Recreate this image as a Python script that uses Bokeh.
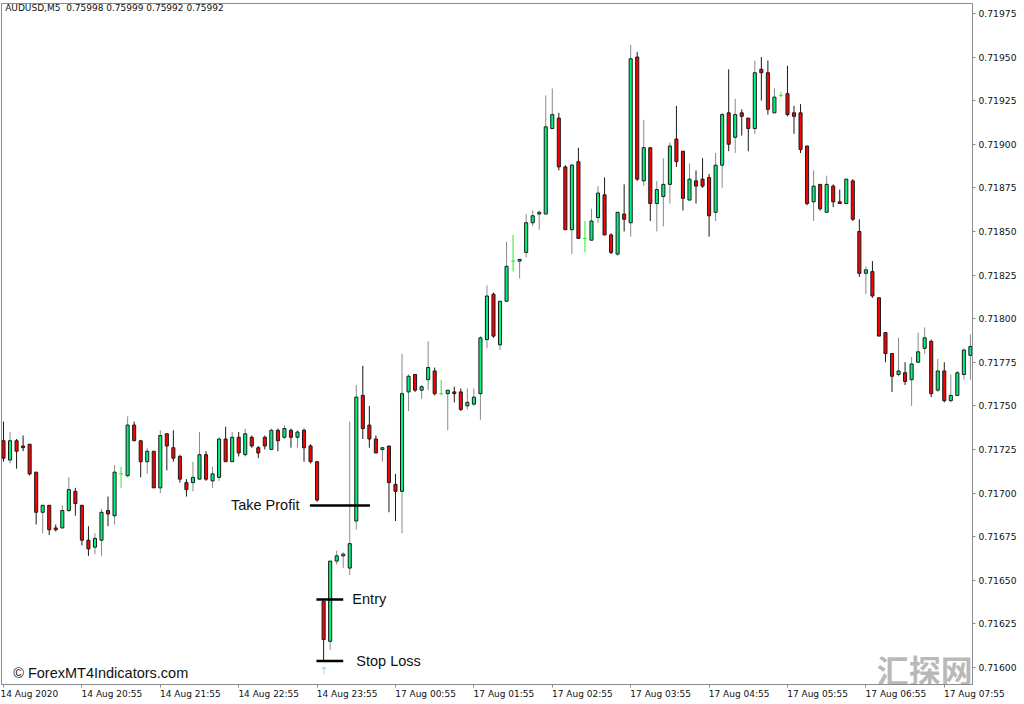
from bokeh.plotting import figure
from bokeh.models import Range1d, FixedTicker, PrintfTickFormatter, ColumnDataSource
from bokeh.core.properties import value
from bokeh.embed import file_html
from bokeh.resources import INLINE

# ---------------- data (AUDUSD M5, 14 Aug 2020 19:55 -> 17 Aug 2020 08:15) ----------------
opens = [0.71730, 0.71719, 0.71730, 0.71727, 0.71728, 0.71712, 0.71689, 0.71693, 0.71680, 0.71680,
         0.71690, 0.71701, 0.71693, 0.71673, 0.71669, 0.71673, 0.71690, 0.71687, 0.71711, 0.71710,
         0.71739, 0.71730, 0.71718, 0.71724, 0.71703, 0.71734, 0.71726, 0.71721, 0.71706, 0.71706,
         0.71708, 0.71722, 0.71707, 0.71709, 0.71731, 0.71718, 0.71732, 0.71722, 0.71732, 0.71726,
         0.71732, 0.71725, 0.71736, 0.71732, 0.71736, 0.71732, 0.71736, 0.71727, 0.71718, 0.71638,
         0.71615, 0.71661, 0.71664, 0.71657, 0.71684, 0.71756, 0.71739, 0.71731, 0.71725, 0.71727,
         0.71705, 0.71701, 0.71758, 0.71768, 0.71759, 0.71765, 0.71770, 0.71757, 0.71757, 0.71758,
         0.71758, 0.71750, 0.71751, 0.71757, 0.71788, 0.71814, 0.71785, 0.71810, 0.71833, 0.71833,
         0.71838, 0.71855, 0.71860, 0.71860, 0.71909, 0.71915, 0.71887, 0.71851, 0.71890, 0.71846,
         0.71845, 0.71858, 0.71871, 0.71848, 0.71837, 0.71860, 0.71855, 0.71950, 0.71879, 0.71898,
         0.71866, 0.71870, 0.71877, 0.71903, 0.71896, 0.71868, 0.71879, 0.71880, 0.71881, 0.71861,
         0.71888, 0.71918, 0.71904, 0.71918, 0.71915, 0.71909, 0.71943, 0.71941, 0.71918, 0.71928,
         0.71929, 0.71918, 0.71918, 0.71899, 0.71867, 0.71877, 0.71861, 0.71876, 0.71867, 0.71866,
         0.71879, 0.71850, 0.71826, 0.71827, 0.71812, 0.71792, 0.71780, 0.71768, 0.71769, 0.71765,
         0.71775, 0.71783, 0.71787, 0.71759, 0.71770, 0.71753, 0.71756, 0.71768, 0.71779]

highs = [0.71741, 0.71735, 0.71731, 0.71733, 0.71728, 0.71712, 0.71693, 0.71693, 0.71682, 0.71693,
         0.71709, 0.71703, 0.71693, 0.71681, 0.71677, 0.71691, 0.71698, 0.71716, 0.71715, 0.71744,
         0.71741, 0.71730, 0.71726, 0.71724, 0.71736, 0.71734, 0.71736, 0.71722, 0.71708, 0.71718,
         0.71735, 0.71724, 0.71715, 0.71732, 0.71738, 0.71735, 0.71735, 0.71737, 0.71733, 0.71727,
         0.71733, 0.71737, 0.71737, 0.71739, 0.71737, 0.71736, 0.71737, 0.71728, 0.71718, 0.71638,
         0.71661, 0.71667, 0.71666, 0.71741, 0.71762, 0.71773, 0.71750, 0.71733, 0.71726, 0.71727,
         0.71711, 0.71780, 0.71768, 0.71768, 0.71762, 0.71787, 0.71772, 0.71765, 0.71759, 0.71761,
         0.71760, 0.71760, 0.71760, 0.71790, 0.71819, 0.71815, 0.71810, 0.71844, 0.71848, 0.71834,
         0.71860, 0.71862, 0.71862, 0.71928, 0.71932, 0.71918, 0.71888, 0.71889, 0.71898, 0.71856,
         0.71863, 0.71876, 0.71881, 0.71849, 0.71861, 0.71877, 0.71957, 0.71953, 0.71914, 0.71898,
         0.71879, 0.71892, 0.71901, 0.71922, 0.71896, 0.71889, 0.71885, 0.71892, 0.71883, 0.71895,
         0.71918, 0.71943, 0.71926, 0.71920, 0.71915, 0.71948, 0.71950, 0.71948, 0.71932, 0.71930,
         0.71945, 0.71922, 0.71923, 0.71899, 0.71885, 0.71877, 0.71882, 0.71877, 0.71874, 0.71880,
         0.71880, 0.71857, 0.71830, 0.71833, 0.71812, 0.71792, 0.71780, 0.71789, 0.71775, 0.71778,
         0.71792, 0.71795, 0.71788, 0.71777, 0.71775, 0.71768, 0.71770, 0.71783, 0.71791]

lows = [0.71718, 0.71717, 0.71714, 0.71724, 0.71710, 0.71682, 0.71677, 0.71676, 0.71678, 0.71680,
        0.71689, 0.71687, 0.71670, 0.71664, 0.71665, 0.71664, 0.71681, 0.71682, 0.71703, 0.71709,
        0.71730, 0.71709, 0.71711, 0.71703, 0.71700, 0.71713, 0.71718, 0.71706, 0.71698, 0.71701,
        0.71708, 0.71707, 0.71703, 0.71707, 0.71718, 0.71718, 0.71721, 0.71721, 0.71726, 0.71720,
        0.71725, 0.71725, 0.71724, 0.71731, 0.71726, 0.71726, 0.71718, 0.71717, 0.71695, 0.71604,
        0.71610, 0.71659, 0.71657, 0.71653, 0.71679, 0.71731, 0.71726, 0.71723, 0.71718, 0.71689,
        0.71684, 0.71677, 0.71747, 0.71758, 0.71754, 0.71759, 0.71756, 0.71756, 0.71736, 0.71752,
        0.71747, 0.71748, 0.71750, 0.71742, 0.71783, 0.71789, 0.71782, 0.71810, 0.71827, 0.71823,
        0.71835, 0.71853, 0.71851, 0.71860, 0.71909, 0.71885, 0.71851, 0.71837, 0.71846, 0.71838,
        0.71845, 0.71855, 0.71848, 0.71837, 0.71836, 0.71850, 0.71847, 0.71879, 0.71876, 0.71856,
        0.71850, 0.71853, 0.71866, 0.71887, 0.71862, 0.71868, 0.71866, 0.71875, 0.71847, 0.71856,
        0.71875, 0.71896, 0.71895, 0.71905, 0.71896, 0.71906, 0.71925, 0.71917, 0.71918, 0.71927,
        0.71916, 0.71906, 0.71895, 0.71865, 0.71856, 0.71862, 0.71861, 0.71864, 0.71866, 0.71866,
        0.71856, 0.71824, 0.71814, 0.71812, 0.71790, 0.71775, 0.71758, 0.71767, 0.71762, 0.71750,
        0.71775, 0.71780, 0.71755, 0.71758, 0.71752, 0.71752, 0.71756, 0.71765, 0.71765]

closes = [0.71720, 0.71730, 0.71724, 0.71726, 0.71711, 0.71689, 0.71693, 0.71679, 0.71679, 0.71690,
          0.71702, 0.71694, 0.71673, 0.71668, 0.71674, 0.71689, 0.71688, 0.71712, 0.71711, 0.71739,
          0.71730, 0.71718, 0.71724, 0.71703, 0.71733, 0.71727, 0.71720, 0.71708, 0.71702, 0.71709,
          0.71722, 0.71708, 0.71711, 0.71731, 0.71718, 0.71732, 0.71723, 0.71734, 0.71727, 0.71723,
          0.71727, 0.71736, 0.71730, 0.71737, 0.71732, 0.71735, 0.71726, 0.71718, 0.71696, 0.71616,
          0.71661, 0.71664, 0.71665, 0.71671, 0.71755, 0.71737, 0.71731, 0.71723, 0.71726, 0.71706,
          0.71701, 0.71757, 0.71767, 0.71759, 0.71761, 0.71772, 0.71757, 0.71757, 0.71759, 0.71757,
          0.71748, 0.71752, 0.71755, 0.71789, 0.71813, 0.71790, 0.71810, 0.71830, 0.71833, 0.71834,
          0.71855, 0.71859, 0.71861, 0.71910, 0.71917, 0.71887, 0.71851, 0.71888, 0.71846, 0.71846,
          0.71856, 0.71872, 0.71848, 0.71838, 0.71861, 0.71857, 0.71949, 0.71880, 0.71898, 0.71866,
          0.71874, 0.71877, 0.71899, 0.71890, 0.71869, 0.71880, 0.71876, 0.71876, 0.71859, 0.71888,
          0.71917, 0.71900, 0.71917, 0.71916, 0.71909, 0.71941, 0.71941, 0.71920, 0.71927, 0.71928,
          0.71917, 0.71916, 0.71897, 0.71866, 0.71876, 0.71863, 0.71877, 0.71867, 0.71866, 0.71880,
          0.71857, 0.71826, 0.71828, 0.71813, 0.71790, 0.71780, 0.71767, 0.71770, 0.71764, 0.71774,
          0.71781, 0.71789, 0.71757, 0.71770, 0.71753, 0.71756, 0.71769, 0.71782, 0.71784]

time_tick_bars = [0, 12, 24, 36, 48, 60, 72, 84, 96, 108, 120, 132, 144]
time_tick_labels = ["14 Aug 2020", "14 Aug 20:55", "14 Aug 21:55", "14 Aug 22:55", "14 Aug 23:55",
                    "17 Aug 00:55", "17 Aug 01:55", "17 Aug 02:55", "17 Aug 03:55", "17 Aug 04:55",
                    "17 Aug 05:55", "17 Aug 06:55", "17 Aug 07:55"]
price_ticks = [0.71600, 0.71625, 0.71650, 0.71675, 0.71700, 0.71725, 0.71750, 0.71775,
               0.71800, 0.71825, 0.71850, 0.71875, 0.71900, 0.71925, 0.71950, 0.71975]

tp_level = 0.716929
entry_level = 0.716390
sl_level = 0.716037
signal_bar = 49

header_text = "AUDUSD,M5\u00a0 0.75998 0.75999 0.75992 0.75992"

# ---------------- colours ----------------
BULL = "#00f57f"
BEAR = "#ff0000"
DOJI = "#22ee22"
BULL_WICK = "#8a8a8a"
BEAR_WICK = "#1a1a1a"
FRAME = "#8c8c8c"

n = len(opens)
xs = list(range(n))

def split(cond):
    ids = [i for i in xs if cond(i)]
    return dict(
        x=ids,
        top=[max(opens[i], closes[i]) for i in ids],
        bottom=[min(opens[i], closes[i]) for i in ids],
        high=[highs[i] for i in ids],
        low=[lows[i] for i in ids],
        xl=[i - 0.28 for i in ids],
        xr=[i + 0.28 for i in ids],
        o=[opens[i] for i in ids],
    )

bull = ColumnDataSource(split(lambda i: closes[i] > opens[i]))
bear = ColumnDataSource(split(lambda i: closes[i] < opens[i]))
doji = ColumnDataSource(split(lambda i: closes[i] == opens[i]))

p = figure(width=1024, height=704,
           x_range=Range1d(-0.306, 148.32), y_range=Range1d(0.7159025, 0.719807),
           y_axis_location="right", output_backend="svg", toolbar_location=None,
           min_border_left=1, min_border_top=3, min_border_right=52, min_border_bottom=20,
           background_fill_color="white", border_fill_color="white")

p.xgrid.visible = False
p.ygrid.visible = False
p.outline_line_color = FRAME
p.outline_line_width = 1

# y axis (right)
yax = p.yaxis[0]
yax.ticker = FixedTicker(ticks=price_ticks)
yax.formatter = PrintfTickFormatter(format="%.5f")
yax.axis_line_color = FRAME
yax.major_tick_line_color = FRAME
yax.major_tick_out = 3
yax.major_tick_in = 0
yax.minor_tick_out = 0
yax.minor_tick_in = 0
yax.major_label_standoff = 3
yax.major_label_text_font = "DejaVu Sans"
yax.major_label_text_font_size = "9.2px"
yax.major_label_text_color = "#111111"

# x axis (bottom): MT4 puts each date/time label to the right of its tick.
# Bokeh centres axis labels, so the labels get a leading pad of no-break spaces
# of about the label's own width (the first one is kept inside the canvas by Bokeh).
PAD = "\u00a0" * 21
xax = p.xaxis[0]
xax.ticker = FixedTicker(ticks=time_tick_bars)
xax.major_label_overrides = {b: (t if k == 0 else PAD + t)
                             for k, (b, t) in enumerate(zip(time_tick_bars, time_tick_labels))}
xax.major_label_text_font = "DejaVu Sans"
xax.major_label_text_font_size = "9px"
xax.major_label_text_color = "#111111"
xax.axis_line_color = FRAME
xax.major_tick_line_color = FRAME
xax.major_tick_out = 3
xax.major_tick_in = 0
xax.minor_tick_out = 0
xax.minor_tick_in = 0
xax.major_label_standoff = 1

# candles: wicks
p.segment(x0="x", y0="low", x1="x", y1="high", source=bull, line_color=BULL_WICK, line_width=1)
p.segment(x0="x", y0="low", x1="x", y1="high", source=bear, line_color=BEAR_WICK, line_width=1)
p.segment(x0="x", y0="low", x1="x", y1="high", source=doji, line_color=DOJI, line_width=1)
# bodies
p.vbar(x="x", width=0.47, top="top", bottom="bottom", source=bull,
       fill_color=BULL, line_color="#1a1a1a", line_width=1)
p.vbar(x="x", width=0.47, top="top", bottom="bottom", source=bear,
       fill_color=BEAR, line_color="#1a1a1a", line_width=1)
p.segment(x0="xl", y0="o", x1="xr", y1="o", source=doji, line_color=DOJI, line_width=1)

# trade levels
p.segment(x0=[46.9], y0=[tp_level], x1=[56.1], y1=[tp_level], line_color="black", line_width=2.5)
p.segment(x0=[47.9, 47.9], y0=[entry_level, sl_level], x1=[52.0, 52.0], y1=[entry_level, sl_level],
          line_color="black", line_width=2.5)

lbl_font = value("Liberation Sans")
lbl_size = value("14.5px")
p.text(x=[45.3], y=[tp_level], text=["Take Profit"], text_align="right", text_baseline="middle",
       text_font=lbl_font, text_font_size=lbl_size, text_color="#111111")
p.text(x=[53.4], y=[entry_level], text=["Entry"], text_align="left", text_baseline="middle",
       text_font=lbl_font, text_font_size=lbl_size, text_color="#111111")
p.text(x=[54.0], y=[sl_level], text=["Stop Loss"], text_align="left", text_baseline="middle",
       text_font=lbl_font, text_font_size=lbl_size, text_color="#111111")
p.text(x=[1.48], y=[0.715969], text=["© ForexMT4Indicators.com"], text_align="left",
       text_baseline="middle", text_font=lbl_font, text_font_size=lbl_size, text_color="#111111")

# signal arrow under the entry bar
p.text(x=[signal_bar], y=[0.715980], text=["↑"], text_align="center", text_baseline="middle",
       text_font=value("DejaVu Sans"), text_font_size=value("10px"), text_color="#9fd0ee")

# header
p.text(x=[0.26], y=[0.719783], text=[header_text], text_align="left", text_baseline="middle",
       text_font=value("DejaVu Sans"), text_font_size=value("9px"), text_color="#111111")

# watermark
p.text(x=[141.0], y=[0.715990], text=["汇探网"], text_align="center", text_baseline="middle",
       text_font=value("Noto Sans CJK SC"), text_font_size=value("32px"), text_font_style="bold",
       text_color="#8a8a8a", text_alpha=0.6)

open("out.html", "w").write(file_html(p, INLINE))
